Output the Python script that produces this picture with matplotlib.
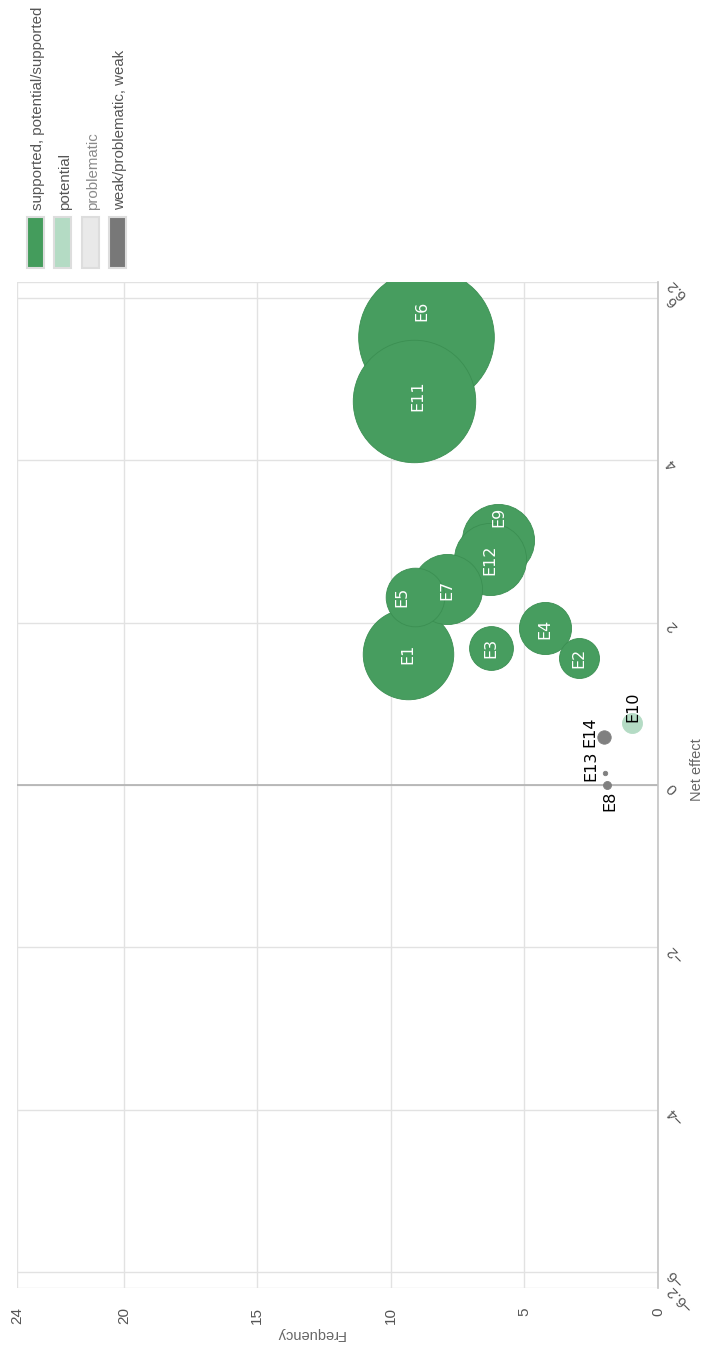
import matplotlib
matplotlib.use("Agg")
import matplotlib.pyplot as plt
from matplotlib.patches import Rectangle

# ---- data ----
labels = ["E1", "E2", "E3", "E4", "E5", "E6", "E7", "E8", "E9", "E10", "E11", "E12", "E13", "E14"]
net_effect = [1.62, 1.57, 1.69, 1.93, 2.32, 5.52, 2.41, 0.0, 3.02, 0.77, 4.73, 2.78, 0.15, 0.59]
frequency = [9.36, 2.96, 6.25, 4.23, 9.10, 8.69, 7.90, 1.90, 5.99, 0.98, 9.14, 6.29, 2.0, 2.02]
weight = [20.5, 4.0, 4.8, 6.8, 8.6, 46.0, 12.3, 0.16, 13.0, 1.0, 37.5, 13.0, 0.05, 0.45]
category = ["supported", "supported", "supported", "supported", "supported", "supported", "supported",
            "weak", "supported", "potential", "supported", "supported", "weak", "weak"]

legend_labels = ["supported, potential/supported", "potential", "problematic", "weak/problematic, weak"]
legend_keys = ["supported", "potential", "problematic", "weak"]
freq_ticks = [0, 5, 10, 15, 20, 24]
net_ticks = [-6.2, -6, -4, -2, 0, 2, 4, 6, 6.2]
net_tick_labels = ["\u22126.2", "\u22126", "\u22124", "\u22122", "0", "2", "4", "6", "6.2"]

# ---- style ----
colors = {"supported": "#449c5c", "potential": "#b4dbc4", "problematic": "#e9e9e9", "weak": "#787878"}
bubble_colors = {"supported": "#479d5f", "potential": "#b4dbc4", "problematic": "#e9e9e9", "weak": "#808080"}
# label offsets in image pixels (dx right, dy down)
label_off = {"E6": (-4, -26), "E11": (4, -6), "E9": (1, -23), "E5": (-13, 0),
             "E10": (1, -16), "E14": (-14, -5), "E13": (-14, -7), "E8": (3, 16)}
W, H = 707, 1350
FS = 11.5

fig = plt.figure(figsize=(W / 100, H / 100), dpi=100)
left, right, top, bottom = 17, 658, 282, 1288
ax = fig.add_axes([left / W, 1 - bottom / H, (right - left) / W, (bottom - top) / H])
ax.set_xlim(24, 0)
ax.set_ylim(-6.2, 6.2)

ax.set_xticks(freq_ticks)
ax.set_xticklabels([str(t) for t in freq_ticks], rotation=90, color="#555555",
                   fontsize=11, family="Liberation Sans")
ax.yaxis.tick_right()
ax.set_yticks(net_ticks)
ax.set_yticklabels(net_tick_labels, color="#555555", fontsize=11, family="Liberation Sans")
for lab in ax.get_yticklabels():
    lab.set_rotation(135)
    lab.set_rotation_mode("anchor")
    lab.set_ha("right")
    lab.set_va("center")
ax.tick_params(axis="both", length=0)
ax.tick_params(axis="y", pad=8)
ax.tick_params(axis="x", pad=14)
ax.grid(True, color="#e2e2e2", lw=1)
ax.set_axisbelow(True)
for s in ["left", "top", "bottom"]:
    ax.spines[s].set_visible(False)
ax.spines["right"].set_color("#c4c4c4")
ax.spines["right"].set_linewidth(1.2)
ax.axhline(0, color="#b0b0b0", lw=1.2, zorder=1)

# bubbles (largest first, E11 over E6)
order = sorted(range(len(labels)), key=lambda i: -weight[i])
for i in order:
    c = bubble_colors[category[i]]
    ax.scatter(frequency[i], net_effect[i], s=weight[i] * 207.4, color=c,
               edgecolor="#3b8f52" if category[i] == "supported" else c,
               linewidth=0.6, zorder=3)

for i, lab in enumerate(labels):
    dx, dy = label_off.get(lab, (0, 0))
    inside = category[i] == "supported"
    ax.annotate(lab, (frequency[i], net_effect[i]), xytext=(dx * 0.72, -dy * 0.72),
                textcoords="offset points", rotation=90, ha="center", va="center",
                fontsize=FS, family="DejaVu Sans",
                color="white" if inside else "black", zorder=5)

fig.text(697 / W, 1 - 770 / H, "Net effect", rotation=90, ha="center", va="center",
         color="#666666", fontsize=10.5, family="Liberation Sans")
fig.text(310 / W, 1 - 1334 / H, "Frequency", rotation=180, ha="center", va="center",
         color="#666666", fontsize=10.5, family="Liberation Sans")

# legend
sw_x = [27, 54, 82, 109]
text_colors = ["#555555", "#555555", "#8a8a8a", "#555555"]
for k, (lbl, key) in enumerate(zip(legend_labels, legend_keys)):
    fig.patches.append(Rectangle((sw_x[k] / W, 1 - 268 / H), 17 / W, 51 / H,
                                 transform=fig.transFigure, facecolor=colors[key],
                                 edgecolor="#dddddd", lw=1.5))
    fig.text((sw_x[k] + 11) / W, 1 - 210 / H, lbl, rotation=90, rotation_mode="anchor",
             ha="left", va="center", color=text_colors[k], fontsize=10.8,
             family="Liberation Sans")

fig.savefig("out.png", dpi=100)
